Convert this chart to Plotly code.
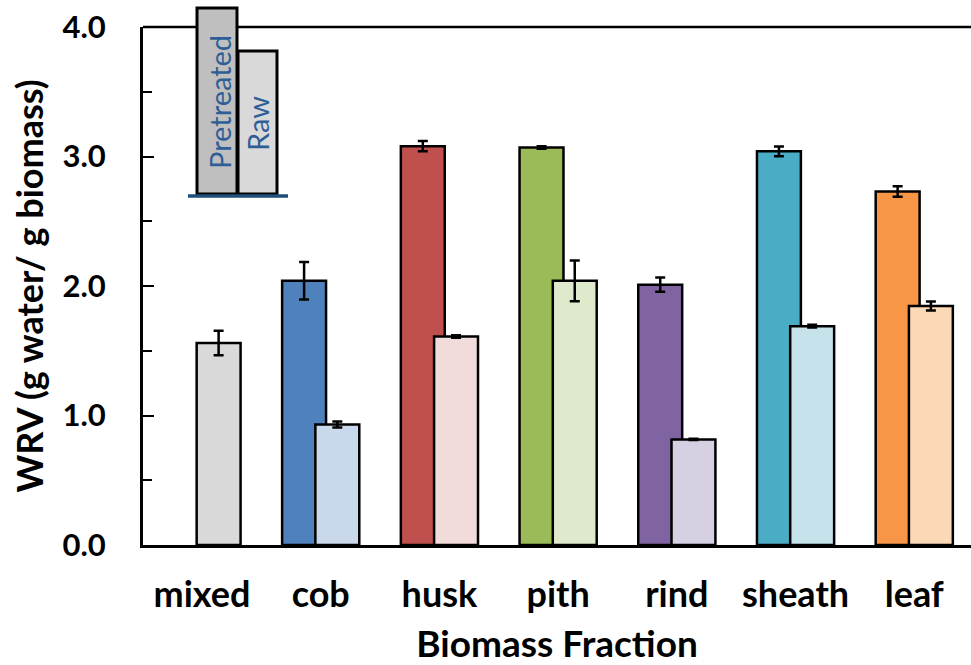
import plotly.graph_objects as go

categories = ["mixed", "cob", "husk", "pith", "rind", "sheath", "leaf"]
pretreated = [None, 2.04, 3.08, 3.07, 2.01, 3.04, 2.73]
pretreated_err = [0, 0.145, 0.04, 0.01, 0.055, 0.038, 0.04]
raw = [1.56, 0.93, 1.61, 2.04, 0.815, 1.69, 1.845]
raw_err = [0.095, 0.023, 0.01, 0.157, 0.005, 0.01, 0.035]

pre_colors = ["#BFBFBF", "#4F81BD", "#C0504D", "#9BBB59", "#8064A2", "#4BACC6", "#F79646"]
raw_colors = ["#D9D9D9", "#C9D9EB", "#F2DCDB", "#DFEACC", "#D7D0E2", "#C6E3EC", "#FBD8B6"]

W, H = 971, 665
ML, MR, MT, MB = 143, 0, 27, 120
PW, PH = W - ML - MR, H - MT - MB

def px(x):
    return (x - ML) / PW

def py(y):
    return (H - MB - y) / PH

fig = go.Figure()
fig.add_trace(go.Bar(
    x=categories, y=pretreated, name="Pretreated",
    width=0.37, offset=-0.325,
    marker=dict(color=pre_colors, line=dict(color="black", width=2.5)),
    error_y=dict(type="data", array=pretreated_err, color="black", thickness=2.5, width=5),
))
fig.add_trace(go.Bar(
    x=categories, y=raw, name="Raw",
    width=0.37, offset=-0.045,
    marker=dict(color=raw_colors, line=dict(color="black", width=2.5)),
    error_y=dict(type="data", array=raw_err, color="black", thickness=2.5, width=5),
))

font_fam = "Lato, Open Sans, sans-serif"
fig.update_layout(
    width=W, height=H,
    margin=dict(l=ML, r=MR, t=MT, b=MB),
    barmode="overlay",
    showlegend=False,
    plot_bgcolor="white", paper_bgcolor="white",
    font=dict(family=font_fam, color="black"),
    xaxis=dict(
        range=[-0.497, 6.478], showline=True, linecolor="black", linewidth=3,
        ticks="", showgrid=False, ticklabelstandoff=16,
        tickfont=dict(size=36, family=font_fam, weight="bold"),
        title=dict(text="Biomass Fraction", font=dict(size=37, weight="bold"), standoff=20),
    ),
    yaxis=dict(
        range=[0, 4.0], dtick=1.0, tickformat=".1f",
        showline=True, linecolor="black", linewidth=3,
        ticks="inside", ticklen=11, tickwidth=2, tickcolor="black",
        minor=dict(dtick=0.5, ticks="inside", ticklen=9, tickwidth=2, tickcolor="black"),
        showgrid=False, zeroline=False, ticklabelstandoff=28,
        tickfont=dict(size=31, family=font_fam, weight="bold"),
        title=dict(text="WRV (g water/ g biomass)", font=dict(size=36, weight="bold"), standoff=8),
    ),
)

# top frame line
fig.add_shape(type="line", xref="paper", yref="paper", x0=0, x1=1, y0=1, y1=1,
              line=dict(color="black", width=2.5))

# inset legend graphic
fig.add_shape(type="rect", xref="paper", yref="paper",
              x0=px(197), x1=px(237), y0=py(194), y1=py(8),
              fillcolor="#BFBFBF", line=dict(color="black", width=3))
fig.add_shape(type="rect", xref="paper", yref="paper",
              x0=px(238), x1=px(277), y0=py(194), y1=py(51),
              fillcolor="#D9D9D9", line=dict(color="black", width=3))
fig.add_shape(type="line", xref="paper", yref="paper",
              x0=px(188), x1=px(288), y0=py(196), y1=py(196),
              line=dict(color="#1F4E79", width=3.5))
fig.add_annotation(text="Pretreated", xref="paper", yref="paper",
                   x=px(219), y=py(102), textangle=-90, showarrow=False,
                   xanchor="center", yanchor="middle",
                   font=dict(size=29, color="#2F5E96", family="Lato, sans-serif"))
fig.add_annotation(text="Raw", xref="paper", yref="paper",
                   x=px(258), y=py(124), textangle=-90, showarrow=False,
                   xanchor="center", yanchor="middle",
                   font=dict(size=29, color="#2F5E96", family="Lato, sans-serif"))

fig.write_html("out.html", config={"displayModeBar": False},
               post_script="document.body.style.margin='0px';")
